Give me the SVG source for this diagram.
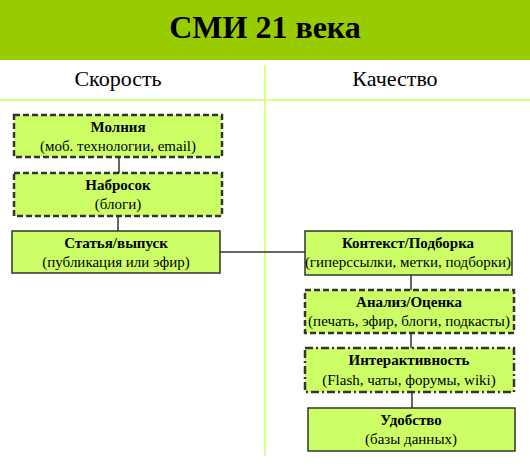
<svg xmlns="http://www.w3.org/2000/svg" width="530" height="470" viewBox="0 0 530 470">
<style>
text{font-family:"Liberation Serif","DejaVu Serif",serif;fill:#000;text-anchor:middle}
.t{font-size:15px;font-weight:bold}
.s{font-size:15px}
.box{fill:#ccff66;stroke:#333}
.solid{stroke-width:1.5}
.dash{stroke-width:2.5;stroke-dasharray:6,3}
.dd{stroke-width:2.5;stroke-dasharray:8,3,2,3}
.col{fill:none;stroke:#ccff66;stroke-width:1.5}
</style>
<rect x="0" y="0" width="530" height="60" fill="#99cc00"/>
<text x="265" y="38" style="font-size:32px;font-weight:bold">СМИ 21 века</text>
<line class="col" x1="265" y1="65" x2="265" y2="456"/>
<line class="col" x1="0" y1="100" x2="530" y2="100"/>
<text x="118" y="86" style="font-size:22px">Скорость</text>
<text x="395" y="86" style="font-size:22px">Качество</text>
<g id="connectors" stroke="#333" stroke-width="1.5" fill="none">
<line x1="119" y1="157" x2="119" y2="173"/>
<line x1="118" y1="216" x2="118" y2="231"/>
<line x1="220" y1="252" x2="305" y2="252"/>
<line x1="411" y1="275" x2="411" y2="290"/>
<line x1="411" y1="333" x2="411" y2="348"/>
<line x1="412" y1="392" x2="412" y2="408"/>
</g>
<g id="n1"><rect class="box dash" x="14" y="115" width="208" height="42"/>
<text class="t" x="118" y="132">Молния</text><text class="s" x="118" y="151">(моб. технологии, email)</text></g>
<g id="n2"><rect class="box dash" x="14" y="173" width="208" height="43"/>
<text class="t" x="118" y="190">Набросок</text><text class="s" x="118" y="209">(блоги)</text></g>
<g id="n3"><rect class="box solid" x="12" y="231" width="208" height="42"/>
<text class="t" x="116" y="248">Статья/выпуск</text><text class="s" x="116" y="267">(публикация или эфир)</text></g>
<g id="n4"><rect class="box solid" x="305" y="231" width="207" height="44"/>
<text class="t" x="408" y="248">Контекст/Подборка</text><text class="s" x="408" y="267">(гиперссылки, метки, подборки)</text></g>
<g id="n5"><rect class="box dash" x="305" y="290" width="209" height="43"/>
<text class="t" x="409" y="307">Анализ/Оценка</text><text class="s" x="409" y="326">(печать, эфир, блоги, подкасты)</text></g>
<g id="n6"><rect class="box dd" x="305" y="348" width="209" height="44"/>
<text class="t" x="409" y="365">Интерактивность</text><text class="s" x="409" y="385">(Flash, чаты, форумы, wiki)</text></g>
<g id="n7"><rect class="box solid" x="308" y="408" width="207" height="43"/>
<text class="t" x="411" y="425">Удобство</text><text class="s" x="411" y="444">(базы данных)</text></g>
</svg>
